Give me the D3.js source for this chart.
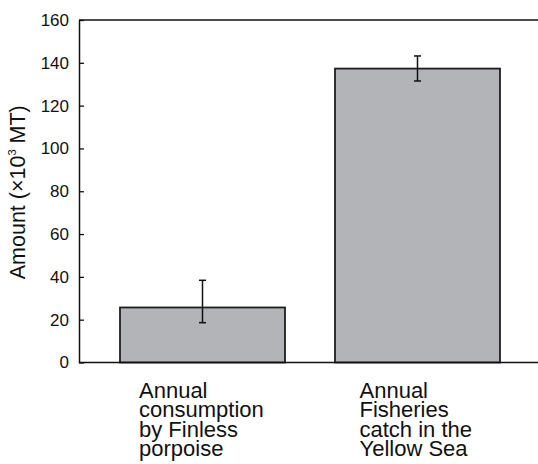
<!DOCTYPE html>
<html>
<head>
<meta charset="utf-8">
<script src="https://cdn.jsdelivr.net/npm/d3@7"></script>
<style>
  html, body { margin: 0; padding: 0; background: #fff; }
  svg { display: block; font-family: "Liberation Sans", Arial, sans-serif; }
</style>
</head>
<body>
<svg id="chart" width="538" height="464"></svg>
<script>
// Annual amounts in thousands of metric tons, with error bar limits
const categories = [
  ["Annual", "consumption", "by Finless", "porpoise"],
  ["Annual", "Fisheries", "catch in the", "Yellow Sea"]
];
const values = [25.7, 137.3];
const errLow = [18.6, 131.5];
const errHigh = [38.4, 143.2];
const yTicks = [0, 20, 40, 60, 80, 100, 120, 140, 160];

const svg = d3.select("#chart");
const mLeft = 79, mTop = 20, mBottom = 362.5, mRight = 538;

const y = d3.scaleLinear().domain([0, 160]).range([mBottom, mTop]);
const x = d3.scaleBand().domain(d3.range(values.length))
  .range([95, 525]).paddingInner(50 / 215).paddingOuter(25 / 215);

// Bars
svg.selectAll("rect.bar").data(values).join("rect")
  .attr("class", "bar")
  .attr("x", (d, i) => x(i))
  .attr("y", d => y(d))
  .attr("width", x.bandwidth())
  .attr("height", d => y(0) - y(d))
  .attr("fill", "#b3b4b8")
  .attr("stroke", "#1e1e1e")
  .attr("stroke-width", 1.8);

// Error bars
const cap = 3.5;
const eg = svg.selectAll("g.err").data(values).join("g")
  .attr("class", "err")
  .attr("stroke", "#111")
  .attr("stroke-width", 1.5);
eg.append("line")
  .attr("x1", (d, i) => x(i) + x.bandwidth() / 2)
  .attr("x2", (d, i) => x(i) + x.bandwidth() / 2)
  .attr("y1", (d, i) => y(errLow[i]))
  .attr("y2", (d, i) => y(errHigh[i]));
[errLow, errHigh].forEach(arr => {
  eg.append("line")
    .attr("x1", (d, i) => x(i) + x.bandwidth() / 2 - cap)
    .attr("x2", (d, i) => x(i) + x.bandwidth() / 2 + cap)
    .attr("y1", (d, i) => y(arr[i]))
    .attr("y2", (d, i) => y(arr[i]));
});

// Frame: top and bottom lines span to the right edge, left axis with inward ticks
svg.append("line").attr("x1", mLeft).attr("x2", mRight).attr("y1", y(160)).attr("y2", y(160))
  .attr("stroke", "#111").attr("stroke-width", 1.5);
svg.append("line").attr("x1", mLeft).attr("x2", mRight).attr("y1", y(0)).attr("y2", y(0))
  .attr("stroke", "#111").attr("stroke-width", 1.5);

const yAxis = d3.axisLeft(y).tickValues(yTicks).tickSizeInner(-5).tickSizeOuter(0).tickPadding(10);
const ax = svg.append("g").attr("transform", `translate(${mLeft},0)`).call(yAxis);
ax.select(".domain").attr("stroke", "#111").attr("stroke-width", 1.5);
ax.selectAll(".tick line").attr("stroke", "#111").attr("stroke-width", 1.3);
ax.selectAll(".tick text").attr("font-size", 17).attr("fill", "#111")
  .attr("font-family", "Liberation Sans, Arial, sans-serif");

// Y axis title
const yt = svg.append("text")
  .attr("transform", `translate(25,${(mTop + mBottom) / 2 + 1}) rotate(-90)`)
  .attr("text-anchor", "middle")
  .attr("font-size", 21.5)
  .attr("fill", "#111");
yt.append("tspan").text("Amount (\u00d710");
yt.append("tspan").attr("font-size", 11).attr("dy", -9).text("3");
yt.append("tspan").attr("dy", 9).text(" MT)");

// Category labels, left-aligned under each bar
const labelOffset = [19, 24.5];
svg.selectAll("text.cat").data(categories).join("text")
  .attr("class", "cat")
  .attr("x", (d, i) => x(i) + labelOffset[i])
  .attr("y", 398)
  .attr("font-size", 22)
  .attr("fill", "#111")
  .each(function(lines) {
    const tx = d3.select(this).attr("x");
    d3.select(this).selectAll("tspan").data(lines).join("tspan")
      .attr("x", tx)
      .attr("dy", (d, j) => j === 0 ? 0 : 19.3)
      .text(d => d);
  });
</script>
</body>
</html>
